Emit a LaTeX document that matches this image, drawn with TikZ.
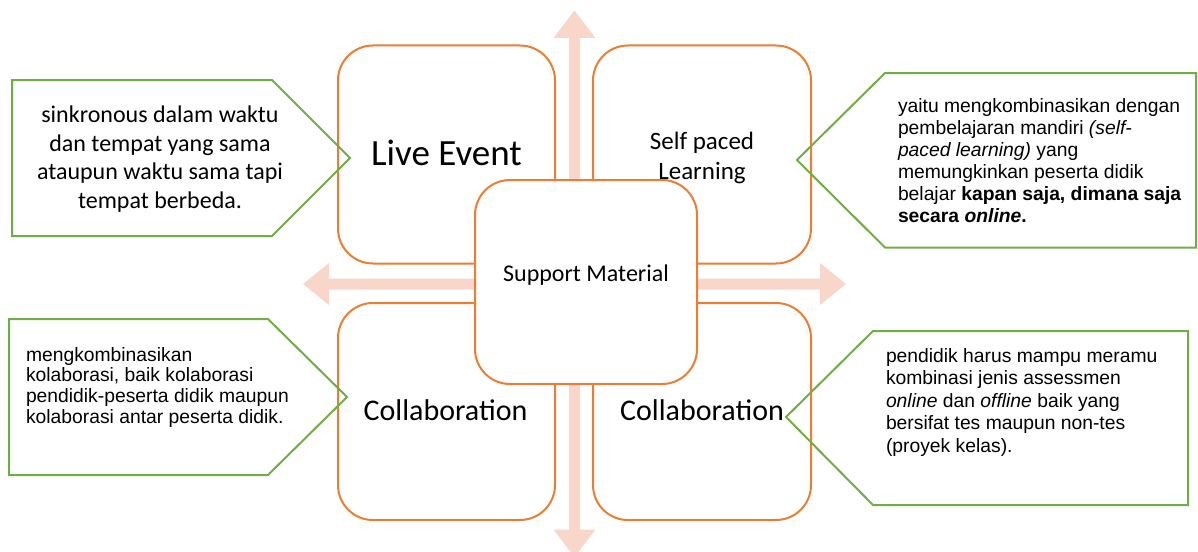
\documentclass[tikz,border=0pt]{standalone}
\usepackage{fontspec}
\setmainfont{Liberation Sans}
\newfontfamily\calibri{Carlito}
\definecolor{boxorange}{RGB}{237,125,49}
\definecolor{callgreen}{RGB}{112,173,71}
\definecolor{arrowpink}{RGB}{248,214,201}
\begin{document}
\begin{tikzpicture}[x=1pt,y=-1pt,
  orangebox/.style={draw=boxorange, line width=2pt, fill=white, rounded corners=35pt},
  callout/.style={draw=callgreen, line width=2pt, line join=miter},
  txt/.style={inner sep=0pt, outer sep=0pt},
  armtxt/.style={txt, font=\fontsize{19.3}{22}\selectfont}
]
\useasboundingbox (0,0) rectangle (1198,551);
\clip (0,0) rectangle (1198,551);

% cross of arrows
\fill[arrowpink] (569,38) -- (553.5,38) -- (574.5,10.5) -- (595.5,38) -- (580,38)
  -- (580,529.5) -- (595.5,529.5) -- (574.5,557) -- (553.5,529.5) -- (569,529.5) -- cycle;
\fill[arrowpink] (329,278.5) -- (329,263) -- (303,284) -- (329,305) -- (329,289.5)
  -- (820,289.5) -- (820,305) -- (846,284) -- (820,263) -- (820,278.5) -- cycle;

% boxes
\draw[orangebox] (338,45.5) rectangle (555,263.5);
\draw[orangebox] (593,45.5) rectangle (811,263.5);
\draw[orangebox] (338,303) rectangle (555,520);
\draw[orangebox] (593,303) rectangle (811,520);
\draw[orangebox] (475,180) rectangle (697,384);

% callouts
\draw[callout] (12,80) -- (272,80) -- (350,158) -- (272,236) -- (12,236) -- cycle;
\draw[callout] (1196,73) -- (885,73) -- (797,160) -- (885,247.5) -- (1196,247.5) -- cycle;
\draw[callout] (9,319) -- (268,319) -- (347,397) -- (268,475) -- (9,475) -- cycle;
\draw[callout] (1188,331) -- (873,331) -- (786,417) -- (873,505) -- (1188,505) -- cycle;

% box texts
\node[txt, anchor=base, font=\calibri\fontsize{37}{44}\selectfont] (live) at (446.5,165) {Live Event};
\node[txt, anchor=base] (self) at (702,149) {\parbox[t]{150pt}{\centering\calibri\fontsize{25}{30}\selectfont Self paced\\Learning}};
\node[txt, anchor=base, font=\calibri\fontsize{24}{29}\selectfont] (supp) at (586,281) {Support Material};
\node[txt, anchor=base, font=\calibri\fontsize{30}{36}\selectfont] (coll1) at (445.5,420) {Collaboration};
\node[txt, anchor=base, font=\calibri\fontsize{30}{36}\selectfont] (coll2) at (702,420) {Collaboration};

% callout texts
\node[txt, anchor=base] (tltext) at (160,122.6) {\parbox[t]{300pt}{\centering\calibri\fontsize{24}{28.6}\selectfont
  sinkronous dalam waktu\\dan tempat yang sama\\ataupun waktu sama tapi\\tempat berbeda.}};
\node[txt, anchor=base west] (trtext) at (898,112) {\parbox[t]{300pt}{\raggedright\fontsize{19.3}{22}\selectfont
  yaitu mengkombinasikan dengan\\
  pembelajaran mandiri \textit{(self-}\\
  \textit{paced learning)} yang\\
  memungkinkan peserta didik\\
  belajar \textbf{kapan saja, dimana saja}\\
  \textbf{secara \textit{online}.}}};
\node[txt, anchor=base west] (bltext) at (26,361) {\parbox[t]{300pt}{\raggedright\fontsize{19.3}{20.7}\selectfont
  mengkombinasikan\\
  kolaborasi, baik kolaborasi\\
  pendidik-peserta didik maupun\\
  kolaborasi antar peserta didik.}};
\node[txt, anchor=base west] (brtext) at (886,362) {\parbox[t]{300pt}{\raggedright\fontsize{19.3}{22.5}\selectfont
  pendidik harus mampu meramu\\
  kombinasi jenis assessmen\\
  \textit{online} dan \textit{offline} baik yang\\
  bersifat tes maupun non-tes\\
  (proyek kelas).}};
\end{tikzpicture}
\end{document}
